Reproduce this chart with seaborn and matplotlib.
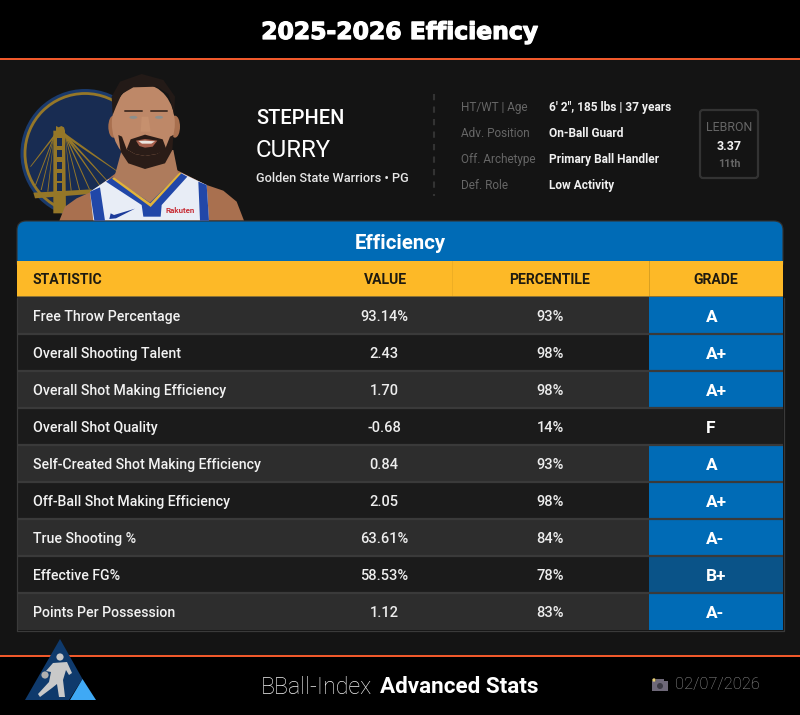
import matplotlib
matplotlib.use('Agg')
import matplotlib.patheffects as pe
import matplotlib.pyplot as plt
import pandas as pd
import seaborn as sns
from matplotlib.patches import Circle, Ellipse, FancyBboxPatch, Polygon, Rectangle

sns.set_theme(style="white")
plt.rcParams['font.family'] = ['Roboto', 'DejaVu Sans']

# Table contents
stats = ['Free Throw Percentage', 'Overall Shooting Talent', 'Overall Shot Making Efficiency',
         'Overall Shot Quality', 'Self-Created Shot Making Efficiency', 'Off-Ball Shot Making Efficiency',
         'True Shooting %', 'Effective FG%', 'Points Per Possession']
values = ['93.14%', '2.43', '1.70', '-0.68', '0.84', '2.05', '63.61%', '58.53%', '1.12']
percentiles = ['93%', '98%', '98%', '14%', '93%', '98%', '84%', '78%', '83%']
grades = ['A', 'A+', 'A+', 'F', 'A', 'A+', 'A-', 'B+', 'A-']
row_kind = ['odd', 'even', 'odd', 'even', 'odd', 'even', 'odd', 'even', 'odd']

info_labels = ['HT/WT | Age', 'Adv. Position', 'Off. Archetype', 'Def. Role']
info_values = ['6\' 2", 185 lbs | 37 years', 'On-Ball Guard', 'Primary Ball Handler', 'Low Activity']

BLUE = '#006BB6'
GOLD = '#FDB927'
PAGE = '#141414'
ORANGE = '#F0592B'
GRADE_COLORS = {'A': BLUE, 'A+': BLUE, 'A-': BLUE, 'B+': '#0A5388', 'F': '#1B1B1B'}

fig = plt.figure(figsize=(8, 7.15), dpi=100, facecolor=PAGE)
bg = fig.add_axes([0, 0, 1, 1])
bg.set_xlim(0, 800)
bg.set_ylim(715, 0)
bg.axis('off')


def rect(x0, y0, x1, y1, color, z=1):
    bg.add_patch(Rectangle((x0, y0), x1 - x0, y1 - y0, fc=color, ec='none', zorder=z))


def poly(pts, color, z=3):
    pts = [(10 + x / 3, 70 + y / 3) for x, y in pts]
    bg.add_patch(Polygon(pts, closed=True, fc=color, ec='none', zorder=z))


def txt(x, y, s, size, color='white', weight='normal', ha='left'):
    # y is the middle of the capitals, size in pixels
    bg.text(x, y + size * 0.36, s, fontsize=size * 0.72, color=color, fontweight=weight, ha=ha, va='baseline', zorder=8)


# top and bottom bands
rect(0, 0, 800, 58, 'black')
rect(0, 58, 800, 60, ORANGE)
rect(0, 657, 800, 715, 'black')
rect(0, 655, 800, 657, ORANGE)
bg.text(400, 39, '2025-2026 Efficiency', fontsize=16.9, color='white', fontweight='bold', ha='center',
        va='baseline', family='DejaVu Sans', zorder=8,
        path_effects=[pe.withStroke(linewidth=0.9, foreground='white')])

# team logo
LOGO_GOLD = '#957728'
LOGO_NAVY = '#182C52'
bg.add_patch(Circle((85, 153.5), 64.5, fc='#1A3A6C', ec='none', zorder=2))
bg.add_patch(Circle((85, 153.5), 60, fc=LOGO_NAVY, ec=LOGO_GOLD, lw=2, zorder=2))
poly([(130, 430), (130, 182), (138, 182), (138, 168), (146, 172), (154, 168), (162, 172), (165, 182),
      (168, 430)], LOGO_GOLD, 2)
poly([(70, 368), (245, 358), (240, 372), (75, 385)], LOGO_GOLD, 2)
for wy in (205, 240, 275, 310, 340):
    poly([(142, wy), (156, wy), (156, wy + 22), (142, wy + 22)], LOGO_NAVY, 2)
for end in [(60, 290), (75, 345), (92, 360), (112, 365)]:
    poly([(132, 195), (132, 203), (end[0] + 3, end[1]), end], LOGO_GOLD, 2)
for end in [(332, 310), (300, 340), (272, 348), (240, 358), (210, 360), (185, 362)]:
    poly([(165, 190), (165, 200), (end[0] - 3, end[1]), end], LOGO_GOLD, 2)

# player: shoulders, neck, jersey, head
SKIN = '#BE8868'
SHADE = '#A9704F'
BEARD = '#2A1C17'
poly([(148, 452), (165, 410), (200, 385), (245, 365), (330, 300), (500, 300), (590, 345), (640, 362),
      (680, 395), (702, 452)], SHADE)
poly([(335, 240), (490, 240), (505, 315), (420, 405), (312, 325)], '#AE7B5C', 4)
poly([(250, 452), (240, 365), (295, 328), (420, 405), (512, 308), (590, 345), (597, 452)], '#E8EDF6', 5)
poly([(240, 365), (270, 352), (285, 452), (253, 452)], '#2147A8', 6)
poly([(565, 335), (590, 345), (597, 452), (570, 452)], '#2147A8', 6)
poly([(288, 335), (308, 322), (420, 398), (510, 308), (532, 320), (455, 405), (452, 440), (400, 440),
      (395, 405)], '#2147A8', 6)
poly([(306, 326), (312, 322), (421, 400), (508, 308), (514, 310), (422, 411)], '#E2B33A', 7)
poly([(298, 447), (302, 430), (312, 435), (375, 416), (318, 445)], '#1C3B9A', 7)
bg.text(10 + 510 / 3, 70 + 421 / 3, 'Rakuten', fontsize=5.8, color='#C8313A', fontweight='bold', ha='center',
        va='center', zorder=8)
bg.add_patch(Ellipse((10 + 310 / 3, 70 + 170 / 3), 10, 22, fc=SHADE, ec='none', zorder=7))
bg.add_patch(Ellipse((10 + 495 / 3, 70 + 170 / 3), 10, 22, fc=SHADE, ec='none', zorder=7))
bg.add_patch(Ellipse((10 + 400 / 3, 70 + 160 / 3), 63, 78, fc=SKIN, ec='none', zorder=7))
# beard runs as a thin strip from the sideburns, mouth area stays skin
poly([(325, 195), (336, 200), (350, 238), (375, 252), (405, 258), (440, 252), (465, 238), (480, 200), (490, 195),
      (487, 240), (465, 280), (405, 297), (355, 280), (332, 245)], BEARD, 8)
poly([(362, 208), (405, 194), (458, 208), (470, 240), (440, 252), (405, 258), (375, 252), (350, 238)], BEARD, 8)
poly([(378, 212), (405, 207), (442, 212), (428, 230), (405, 233), (388, 228)], '#A65F4C', 8)
poly([(385, 213), (405, 212), (435, 214), (424, 221), (396, 221)], '#EBE6E0', 9)
poly([(308, 135), (305, 80), (330, 35), (395, 12), (460, 30), (495, 80), (492, 135), (487, 110), (475, 72),
      (440, 50), (370, 52), (335, 72), (318, 110)], '#231A17', 8)
for ex in (370, 447):
    bg.add_patch(Ellipse((10 + ex / 3, 70 + 142 / 3), 8, 3, fc='#8C8F8C', ec='none', zorder=9))
    bg.plot([10 + (ex - 25) / 3, 10 + (ex + 25) / 3], [70 + 122 / 3, 70 + 122 / 3], color='#4A3328', lw=1.4, zorder=9)
poly([(395, 140), (415, 140), (422, 185), (392, 185)], '#C6906E', 8)

# name block
txt(256, 117, 'STEPHEN', 20, weight='medium')
txt(256, 148.5, 'CURRY', 24)
txt(256, 177, 'Golden State Warriors • PG', 12.7, color='#E6E6E6', weight='medium')
bg.plot([433.5, 433.5], [94, 196], color='#333333', lw=1.5, ls=(0, (3, 3)), zorder=3)
for i, (lab, val) in enumerate(zip(info_labels, info_values)):
    y = 107 + i * 26
    txt(461, y, lab, 11.8, color='#666666')
    txt(549, y, val, 11.9, weight='bold', color='#F0F0F0')

# LEBRON box
bg.add_patch(FancyBboxPatch((700, 110), 58, 68, boxstyle='round,pad=0,rounding_size=3', fc='none', ec='#333333',
                            lw=1.6, zorder=3))
txt(729, 127, 'LEBRON', 12.4, color='#666666', ha='center')
txt(729, 145, '3.37', 12.5, color='#F0F0F0', weight='bold', ha='center')
txt(729, 163, '11th', 11, color='#666666', weight='bold', ha='center')

# table header
bg.add_patch(FancyBboxPatch((17, 221), 766, 50, boxstyle='round,pad=0,rounding_size=9', fc=BLUE, ec='#333333',
                            lw=0.8, zorder=5))
rect(17, 261, 783, 296, GOLD, 6)
rect(17, 296, 783, 298, '#8A7236', 6)
rect(452, 261, 453, 296, '#EEAE24', 7)
rect(649, 261, 650, 296, '#D9A021', 7)
txt(400, 242, 'Efficiency', 20.4, weight='bold', ha='center')
HEAD_INK = '#1E1A10'
txt(32.5, 279, 'STATISTIC', 14, color=HEAD_INK, weight='bold')
txt(385, 279, 'VALUE', 14, color=HEAD_INK, weight='bold', ha='center')
txt(550, 279, 'PERCENTILE', 14, color=HEAD_INK, weight='bold', ha='center')
txt(716, 279, 'GRADE', 14, color=HEAD_INK, weight='bold', ha='center')

# table rows, one bar per statistic, axes span x 17-783 and y 297-630 in pixels
ax = fig.add_axes([17 / 800, 1 - 630 / 715, 766 / 800, 333 / 715], zorder=2)
df = pd.DataFrame({'stat': stats, 'value': values, 'percentile': percentiles, 'grade': grades, 'kind': row_kind})
df['row_width'] = 766
df['grade_width'] = 134
sns.barplot(data=df, y='stat', x='row_width', hue='kind', palette={'odd': '#2D2D2D', 'even': '#1B1B1B'},
            width=1, dodge=False, saturation=1, legend=False, linewidth=0, edgecolor='none', ax=ax)
sns.barplot(data=df, y='stat', x='grade_width', hue='grade', palette=GRADE_COLORS, left=632,
            width=1, dodge=False, saturation=1, legend=False, linewidth=0, edgecolor='none', ax=ax)
ax.set_xlim(0, 766)
ax.set_ylim(len(stats) - 0.5, -0.5)
ax.axis('off')
for i in range(1, len(stats)):
    ax.axhline(i - 0.5, color='#3A3A3A', lw=1.6, zorder=5)
for i, row in df.iterrows():
    base = i + 5.2 / 37
    ax.text(16, base, row['stat'], fontsize=10.2, color='#F2F2F2', fontweight='medium', va='baseline', zorder=6)
    ax.text(367, base, row['value'], fontsize=10.5, color='#EDEDED', fontweight='medium', ha='center', va='baseline', zorder=6)
    ax.text(533, base, row['percentile'], fontsize=10.5, color='#EDEDED', fontweight='medium', ha='center', va='baseline', zorder=6)
    # grades start at the same x, they are not centred
    ax.text(688.5, i + 6.2 / 37, row['grade'], fontsize=12.4, color='white', fontweight='bold', ha='left', va='baseline', zorder=6)

# border around the rows
over = fig.add_axes([0, 0, 1, 1], zorder=3)
over.set_xlim(0, 800)
over.set_ylim(715, 0)
over.axis('off')
over.plot([16.5, 16.5, 783.5, 783.5], [298, 630.5, 630.5, 298], color='#3A3A3A', lw=0.9)

# footer logo, sits over the orange line
over.add_patch(Polygon([(60, 639), (82.5, 679), (69, 700), (25, 700)], fc='#0F3A6C', ec='none'))
over.add_patch(Polygon([(82.5, 679), (70, 700), (96, 700)], fc='#3FA9F5', ec='none'))
over.add_patch(Circle((60, 657), 3.6, fc='#C9C9C9', ec='none'))
over.add_patch(Circle((45, 675), 3.6, fc='#AFAFAF', ec='none'))
over.add_patch(Polygon([(53, 663), (67, 662), (72, 673), (69, 675), (66, 670), (63, 680), (65, 697), (59, 697),
                        (57, 684), (52, 688), (40, 697), (38, 694), (49, 682), (51, 672), (46, 671)],
                       fc='#C9C9C9', ec='none'))

txt(261, 685.5, 'BBall-Index', 23.2, color='#F2F2F2', weight='light')
txt(380, 685, 'Advanced Stats', 22.5, weight='bold')

# camera icon and date
rect(652, 681, 668, 691, '#6E6878', 8)
rect(656, 679, 664, 682, '#6E6878', 8)
bg.add_patch(Circle((660, 686), 3, fc='#3C3A44', ec='none', zorder=9))
bg.add_patch(Circle((654, 680), 1.7, fc='#E6CF7A', ec='none', zorder=9))
txt(675, 683, '02/07/2026', 16.5, color='#9A9A9A', weight='light')

fig.savefig('out.png', dpi=100, facecolor=PAGE)
